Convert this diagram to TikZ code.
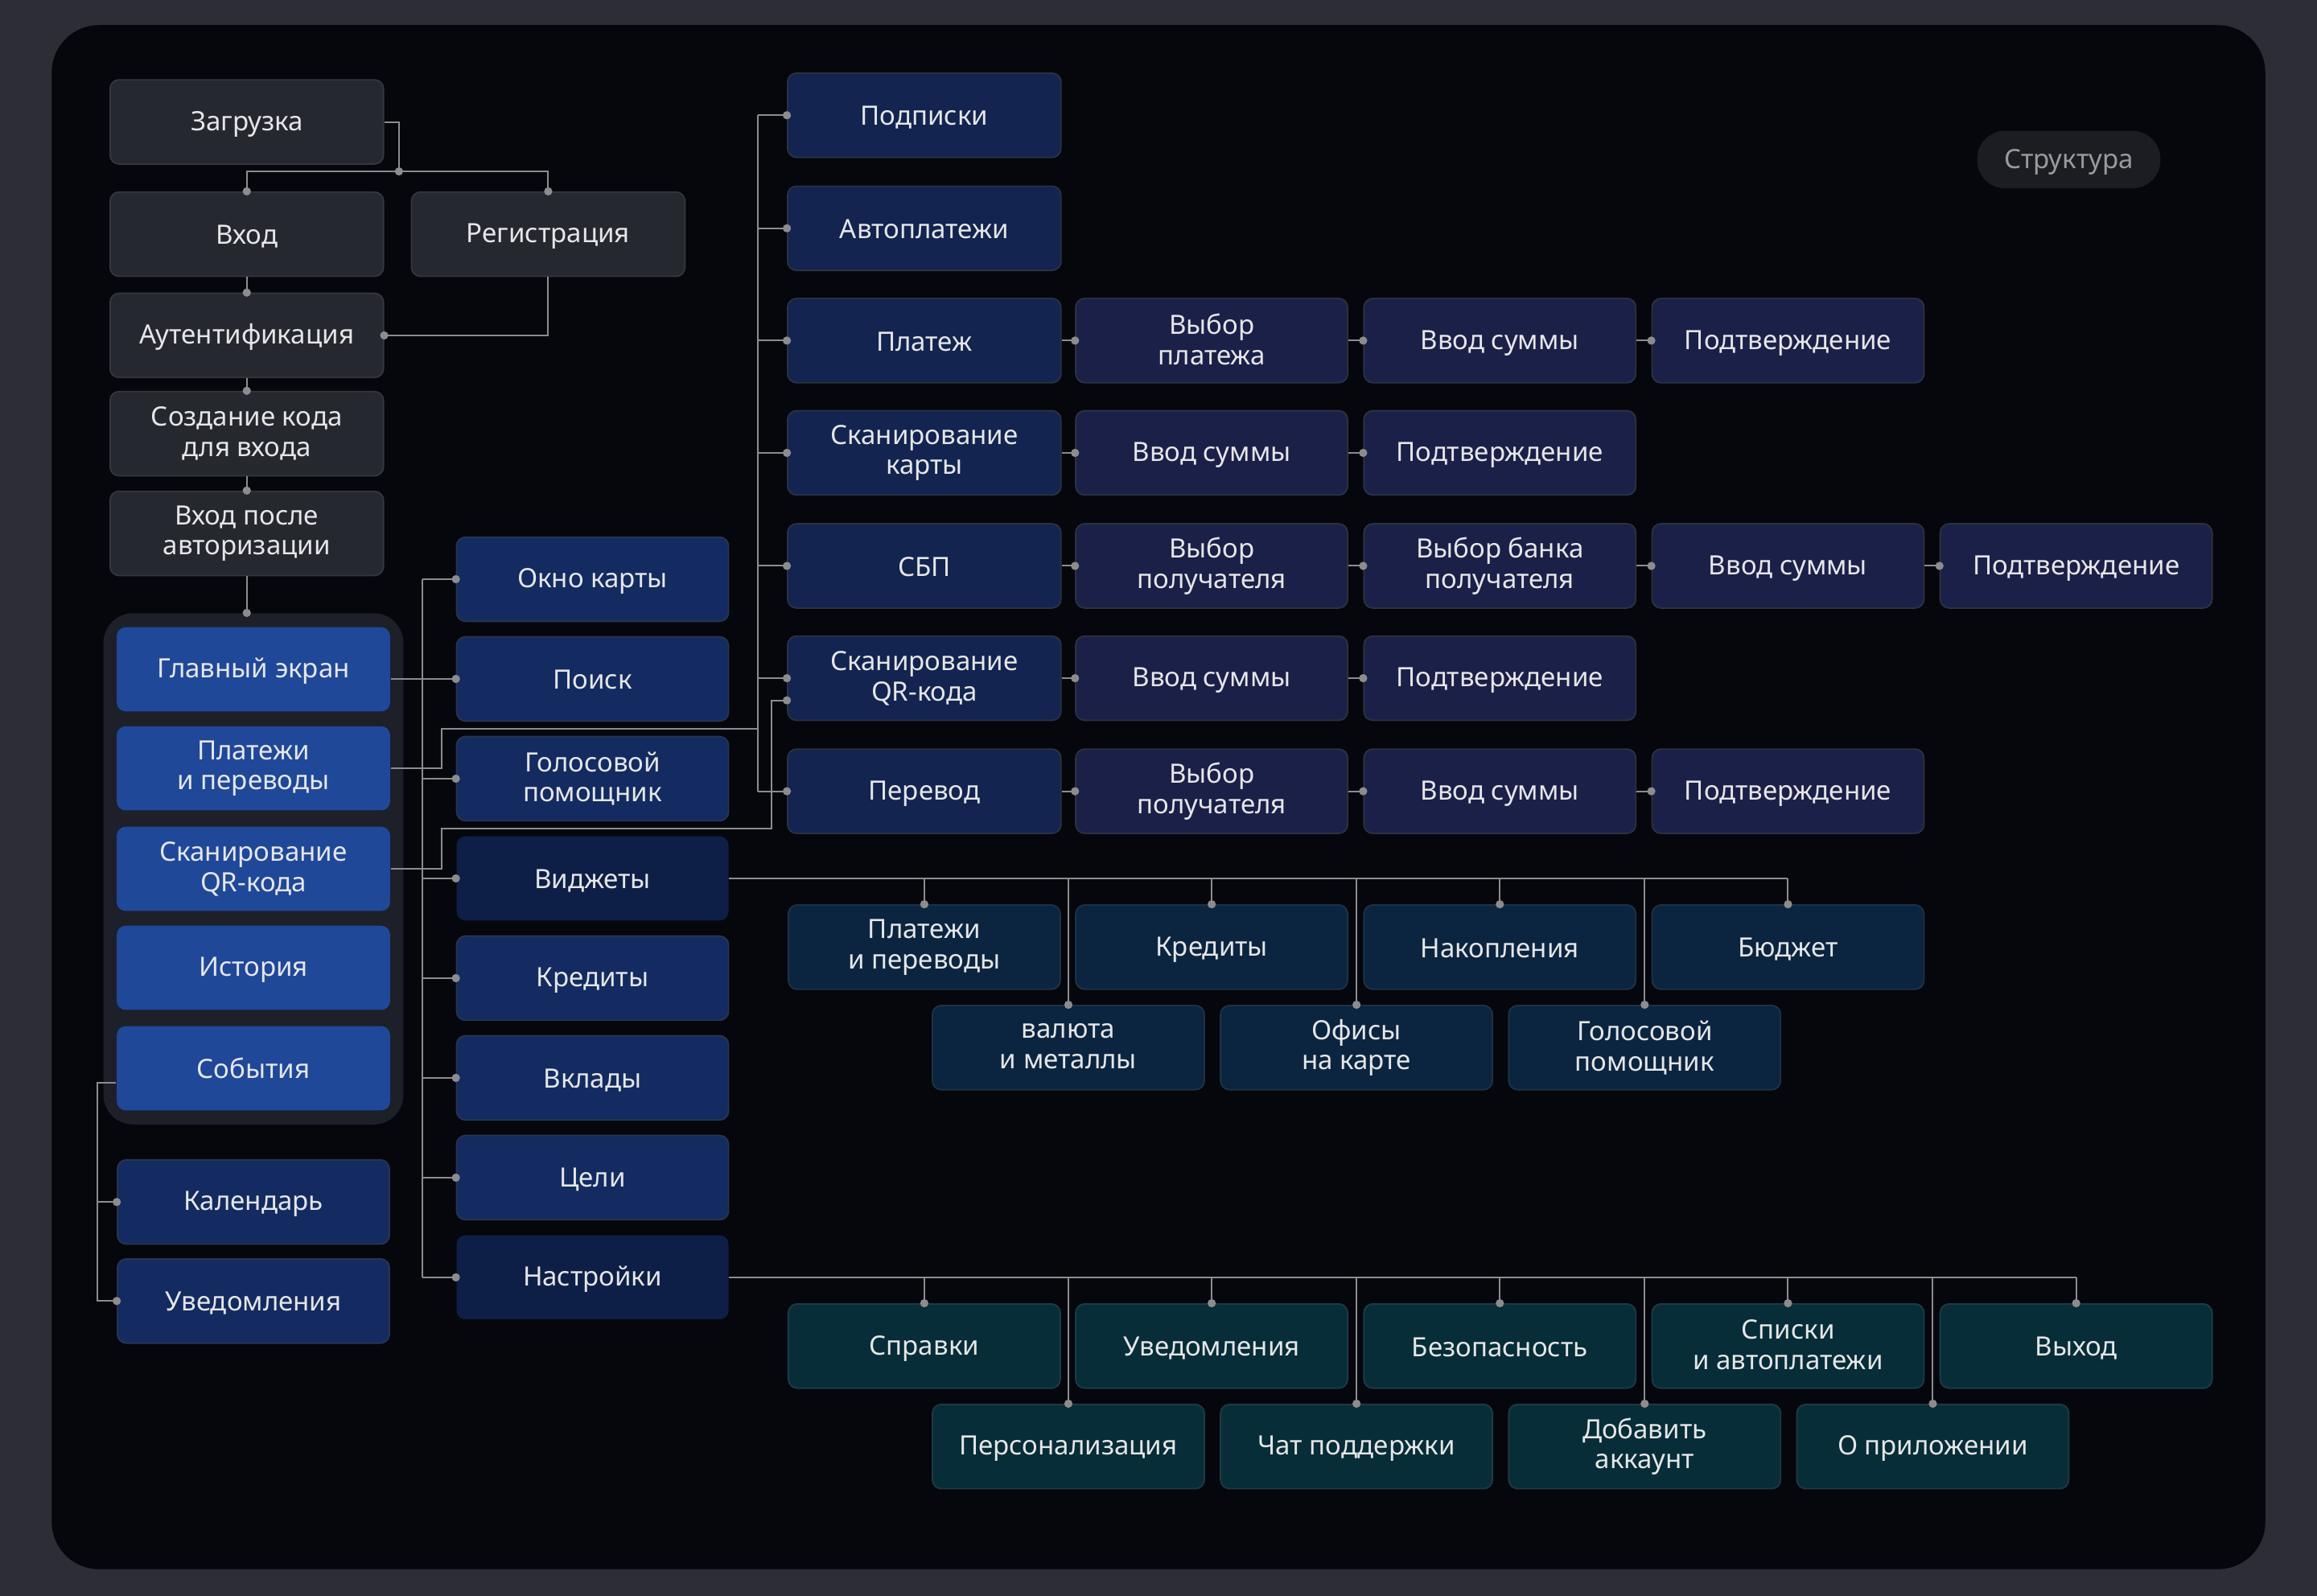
\documentclass[tikz,border=0pt]{standalone}
\usepackage{fontspec}
\setmainfont{Noto Sans}
\usetikzlibrary{calc}
\definecolor{outerbg}{HTML}{2C2D35}
\definecolor{panelbg}{HTML}{05070C}
\definecolor{greyfill}{HTML}{262830}
\definecolor{greybd}{HTML}{34363F}
\definecolor{grpfill}{HTML}{1D1F29}
\definecolor{mainblue}{HTML}{1F4899}
\definecolor{midnavy}{HTML}{132B60}
\definecolor{midbd}{HTML}{2A3350}
\definecolor{darknavy}{HTML}{0E1F47}
\definecolor{colone}{HTML}{12244F}
\definecolor{coltwo}{HTML}{1B2048}
\definecolor{colbd}{HTML}{2C3142}
\definecolor{widgfill}{HTML}{0B2540}
\definecolor{widgbd}{HTML}{1E3148}
\definecolor{setfill}{HTML}{062D38}
\definecolor{setbd}{HTML}{1E3A44}
\definecolor{txtc}{HTML}{E6E6E8}
\definecolor{linec}{HTML}{8C8C8E}
\definecolor{pillfill}{HTML}{1C1D22}
\definecolor{pilltxt}{HTML}{9A9A9E}
\newcommand\fs{\fontsize{18}{20.5}\selectfont}
\newcommand\mystrut{\rule{0pt}{16pt}\rule[-2pt]{0pt}{2pt}}
\newcommand\dt[1]{\fill[linec] (#1) circle (2.8pt);}
\begin{document}
\begin{tikzpicture}[x=1pt,y=-1pt,
  box/.style={rectangle, rounded corners=6pt, minimum width=185pt, minimum height=57pt,
    align=center, text=txtc, font=\fs, inner sep=2pt, line width=1pt,
    execute at begin node=\mystrut, execute at end node=\mystrut},
  gbox/.style={box, fill=greyfill, draw=greybd},
  mbox/.style={box, fill=mainblue},
  nbox/.style={box, fill=midnavy, draw=midbd, minimum width=184pt},
  dbox/.style={box, fill=darknavy, minimum width=184pt},
  cone/.style={box, fill=colone, draw=colbd},
  ctwo/.style={box, fill=coltwo, draw=colbd, minimum width=184pt},
  wbox/.style={box, fill=widgfill, draw=widgbd, minimum width=184pt},
  sbox/.style={box, fill=setfill, draw=setbd, minimum width=184pt},
  conn/.style={draw=linec, line width=1.1pt}
]
\useasboundingbox (0,0) rectangle (1568,1080);
\fill[outerbg] (0,0) rectangle (1568,1080);
\fill[panelbg, rounded corners=32pt] (35,17) rectangle (1533,1062);

% pill
\node[rectangle, rounded corners=19pt, fill=pillfill, minimum width=124pt, minimum height=39pt,
  text=pilltxt, font=\fs, execute at begin node=\mystrut] (struct) at (1400,108) {Структура};

% left column
\node[gbox] (zag) at (167,82.5) {Загрузка};
\node[gbox] (vhod) at (167,158.5) {Вход};
\node[gbox] (reg) at (371,158.5) {Регистрация};
\node[gbox] (aut) at (167,227) {Аутентификация};
\node[gbox] (code) at (167,293.5) {Создание кода\\для входа};
\node[gbox] (after) at (167,361) {Вход после\\авторизации};

% group
\node[rectangle, rounded corners=20pt, fill=grpfill, minimum width=203pt, minimum height=346pt] (grp) at (171.5,588) {};
\node[mbox] (glav) at (171.5,453) {Главный экран};
\node[mbox] (pay) at (171.5,520) {Платежи\\и переводы};
\node[mbox] (qr) at (171.5,588) {Сканирование\\QR-кода};
\node[mbox] (hist) at (171.5,655) {История};
\node[mbox] (sob) at (171.5,723) {События};
\node[nbox] (kal) at (171.5,813.5) {Календарь};
\node[nbox] (uved) at (171.5,880.5) {Уведомления};

% middle column
\node[nbox] (okno) at (401,392) {Окно карты};
\node[nbox] (poisk) at (401,459.5) {Поиск};
\node[nbox] (golos) at (401,527) {Голосовой\\помощник};
\node[dbox] (vidj) at (401,594.5) {Виджеты};
\node[nbox] (kred) at (401,662) {Кредиты};
\node[nbox] (vkl) at (401,729.5) {Вклады};
\node[nbox] (celi) at (401,797) {Цели};
\node[dbox] (nastr) at (401,864.5) {Настройки};

% right tree col1
\node[cone] (podp) at (625.5,78) {Подписки};
\node[cone] (avto) at (625.5,154.5) {Автоплатежи};
\node[cone] (plat) at (625.5,230.5) {Платеж};
\node[cone] (skk) at (625.5,306.5) {Сканирование\\карты};
\node[cone] (sbp) at (625.5,383) {СБП};
\node[cone] (rqr) at (625.5,459) {Сканирование\\QR-кода};
\node[cone] (perev) at (625.5,535.5) {Перевод};
% col2
\node[ctwo] (vybpl) at (820,230.5) {Выбор\\платежа};
\node[ctwo] (vsb) at (820,306.5) {Ввод суммы};
\node[ctwo] (vpol) at (820,383) {Выбор\\получателя};
\node[ctwo] (vsd) at (820,459) {Ввод суммы};
\node[ctwo] (vpolb) at (820,535.5) {Выбор\\получателя};
% col3
\node[ctwo] (vsa) at (1015,230.5) {Ввод суммы};
\node[ctwo] (podb) at (1015,306.5) {Подтверждение};
\node[ctwo] (vbank) at (1015,383) {Выбор банка\\получателя};
\node[ctwo] (podd) at (1015,459) {Подтверждение};
\node[ctwo] (vse) at (1015,535.5) {Ввод суммы};
% col4
\node[ctwo] (poda) at (1210,230.5) {Подтверждение};
\node[ctwo] (vsc) at (1210,383) {Ввод суммы};
\node[ctwo] (pode) at (1210,535.5) {Подтверждение};
% col5
\node[ctwo] (podc) at (1405,383) {Подтверждение};

% widget children
\node[wbox] (wpay) at (625.5,641) {Платежи\\и переводы};
\node[wbox] (wkred) at (820,641) {Кредиты};
\node[wbox] (wnak) at (1015,641) {Накопления};
\node[wbox] (wbud) at (1210,641) {Бюджет};
\node[wbox] (wval) at (723,709) {валюта\\и металлы};
\node[wbox] (woff) at (918,709) {Офисы\\на карте};
\node[wbox] (wgol) at (1113,709) {Голосовой\\помощник};

% settings children
\node[sbox] (ssp) at (625.5,911) {Справки};
\node[sbox] (suv) at (820,911) {Уведомления};
\node[sbox] (sbez) at (1015,911) {Безопасность};
\node[sbox] (sspis) at (1210,911) {Списки\\и автоплатежи};
\node[sbox] (svyh) at (1405,911) {Выход};
\node[sbox] (sper) at (723,979) {Персонализация};
\node[sbox] (schat) at (918,979) {Чат поддержки};
\node[sbox] (sadd) at (1113,979) {Добавить\\аккаунт};
\node[sbox] (sabout) at (1308,979) {О приложении};

% ---------- connectors ----------
\coordinate (j1) at (270,116);
\draw[conn] (zag.east) -| (j1);
\draw[conn] (vhod.north) |- (j1) -| (reg.north);
\dt{j1} \dt{vhod.north} \dt{reg.north}
\draw[conn] (reg.south) |- (aut.east); \dt{aut.east}
\draw[conn] (vhod.south) -- (aut.north); \dt{aut.north}
\draw[conn] (aut.south) -- (code.north); \dt{code.north}
\draw[conn] (code.south) -- (after.north); \dt{after.north}
\draw[conn] (after.south) -- (after.south |- grp.north); \dt{after.south |- grp.north}

% middle vertical
\coordinate (mvx) at (286,0);
\draw[conn] (mvx |- okno.west) -- (mvx |- nastr.west);
\foreach \n in {okno,poisk,golos,vidj,kred,vkl,celi,nastr}{
  \draw[conn] (mvx |- \n.west) -- (\n.west); \dt{\n.west}
}
\draw[conn] (glav.east |- poisk.west) -- (mvx |- poisk.west);

% right vertical
\coordinate (rvx) at (513,0);
\draw[conn] (rvx |- podp.west) -- (rvx |- perev.west);
\foreach \n in {podp,avto,plat,skk,sbp,rqr,perev}{
  \draw[conn] (rvx |- \n.west) -- (\n.west); \dt{\n.west}
}
\coordinate (j2) at (299,493);
\draw[conn] (pay.east) -| (j2) -- (rvx |- j2);
\coordinate (j4) at (299,560.5);
\coordinate (j5) at (522,474);
\draw[conn] (qr.east) -| (j4) -| (j5) -- (rqr.west |- j5); \dt{rqr.west |- j5}

% row chains
\foreach \a/\b in {plat/vybpl, vybpl/vsa, vsa/poda, skk/vsb, vsb/podb, sbp/vpol, vpol/vbank, vbank/vsc, vsc/podc,
  rqr/vsd, vsd/podd, perev/vpolb, vpolb/vse, vse/pode}{
  \draw[conn] (\a.east) -- (\b.west); \dt{\b.west}
}

% widgets
\draw[conn] (vidj.east) -- (wbud.north |- vidj.east);
\foreach \n in {wpay,wkred,wnak,wbud,wval,woff,wgol}{
  \draw[conn] (\n.north |- vidj.east) -- (\n.north); \dt{\n.north}
}

% settings
\draw[conn] (nastr.east) -- (svyh.north |- nastr.east);
\foreach \n in {ssp,suv,sbez,sspis,svyh,sper,schat,sadd,sabout}{
  \draw[conn] (\n.north |- nastr.east) -- (\n.north); \dt{\n.north}
}

% events
\coordinate (j6) at (66,733);
\draw[conn] (sob.west |- j6) -- (j6) |- (uved.west); \dt{uved.west}
\draw[conn] (j6 |- kal.west) -- (kal.west); \dt{kal.west}
\end{tikzpicture}
\end{document}
